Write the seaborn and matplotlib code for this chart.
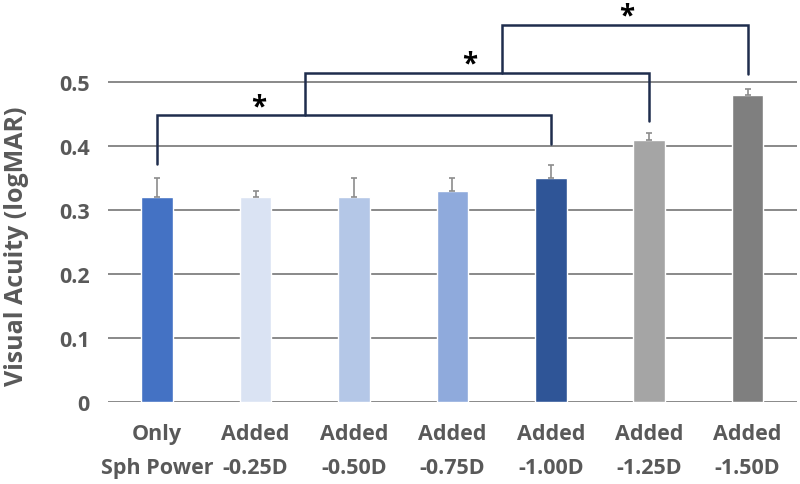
import numpy as np
import pandas as pd
import seaborn as sns
import matplotlib.pyplot as plt

conditions = ['Only\nSph Power', 'Added\n-0.25D', 'Added\n-0.50D', 'Added\n-0.75D',
              'Added\n-1.00D', 'Added\n-1.25D', 'Added\n-1.50D']
acuity = [0.32, 0.32, 0.32, 0.33, 0.35, 0.41, 0.48]
sd_upper = [0.03, 0.01, 0.03, 0.02, 0.02, 0.01, 0.01]
bar_colors = ['#4472C4', '#DAE3F3', '#B4C7E7', '#8FAADC', '#2F5597', '#A5A5A5', '#7F7F7F']

df = pd.DataFrame({'cond': conditions, 'va': acuity})

sns.set_style('white')
plt.rcParams['font.family'] = ['Open Sans', 'DejaVu Sans']

fig = plt.figure(figsize=(8, 4.85), dpi=100)
ax = fig.add_axes([0.135, 0.169, 0.861, 0.831])

# gridlines first so bars sit on top
ax.set_axisbelow(True)
ax.yaxis.grid(True, color='#808080', linewidth=1.3)

sns.barplot(data=df, x='cond', y='va', hue='cond', palette=bar_colors,
            width=0.32, legend=False, ax=ax, errorbar=None, saturation=1)

ax.errorbar(range(len(acuity)), acuity, yerr=[np.zeros(len(acuity)), sd_upper],
            fmt='none', ecolor='#8c8c8c', elinewidth=1.2, capsize=2.5, capthick=1.2)

# significance brackets: (x_left, y_left_end, x_right, y_right_end, y_top, star_x)
brackets = [
    (0, 0.372, 4, 0.403, 0.448, 1.03),
    (1.5, 0.448, 5, 0.44, 0.515, 3.18),
    (3.5, 0.515, 6, 0.513, 0.589, 4.77),
]
for xl, yl, xr, yr, yt, sx in brackets:
    ax.plot([xl, xl, xr, xr], [yl, yt, yt, yr], color='#1F2D4D', lw=1.8,
            solid_joinstyle='miter', clip_on=False)
    ax.text(sx, yt + 0.002, '*', ha='center', va='baseline', fontsize=20,
            fontweight='bold', color='black')

ax.set_ylim(0, 0.63)
ax.set_xlim(-0.5, 6.5)
ax.set_yticks([0, 0.1, 0.2, 0.3, 0.4, 0.5])
ax.set_yticklabels(['0', '0.1', '0.2', '0.3', '0.4', '0.5'])
ax.tick_params(axis='both', length=0, labelsize=15.5, labelcolor='#595959')
ax.tick_params(axis='y', pad=13)
ax.tick_params(axis='x', pad=15)
for lab in ax.get_xticklabels() + ax.get_yticklabels():
    lab.set_fontweight('bold')
    lab.set_linespacing(1.8)

ax.set_xlabel('')
ax.set_ylabel('Visual Acuity (logMAR)', fontsize=18, fontweight='bold',
              color='#595959')
ax.yaxis.set_label_coords(-0.115, 0.39)

sns.despine(ax=ax, left=True, right=True, top=True, bottom=True)

fig.savefig('out.png', dpi=100)
